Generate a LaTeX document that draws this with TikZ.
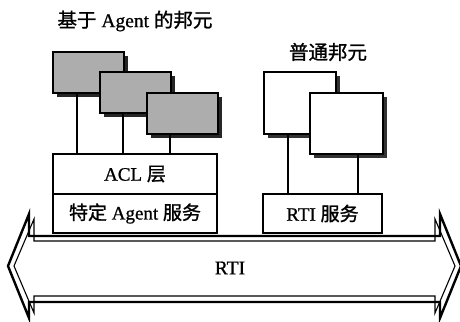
\documentclass[tikz,border=0pt]{standalone}
\usepackage{fontspec}
\setmainfont{Liberation Serif}[FakeBold=0.8]
\newfontfamily\cjk{Noto Sans CJK SC}[FakeBold=1.2]
\usetikzlibrary{shadows}
\tikzset{
  boxline/.style={line width=2pt},
  agentbox/.style={boxline, draw, fill=black!32, minimum width=71pt, minimum height=41pt, inner sep=0pt,
    drop shadow={shadow xshift=4pt, shadow yshift=-4pt, fill=black!85, opacity=1}},
  fedbox/.style={boxline, draw, fill=white, minimum width=72pt, minimum height=62pt, inner sep=0pt,
    drop shadow={shadow xshift=4pt, shadow yshift=-4pt, fill=black!80, opacity=1}},
  layerbox/.style={boxline, draw, fill=white, inner sep=0pt, font=\fontsize{19}{21}\selectfont},
  conn/.style={line width=2.6pt},
  lbl/.style={font=\fontsize{19.5}{21}\selectfont, inner sep=0pt}
}
\begin{document}
\begin{tikzpicture}[x=1pt, y=-1pt]
\useasboundingbox (0,0) rectangle (460,321);
\clip (0,0) rectangle (460,321);
% titles
\node[lbl] (t1) at (135,21) {{\cjk 基于} Agent {\cjk 的邦元}};
\node[lbl] (t2) at (328,52) {\cjk 普通邦元};
% agent federates
\node[agentbox] (a1) at (88.5,72.5) {};
\node[agentbox] (a2) at (135.5,92) {};
\node[agentbox] (a3) at (182.5,113) {};
% layers
\node[layerbox, minimum width=164pt, minimum height=40pt] (acl) at (135,174) {ACL {\cjk 层}};
\node[layerbox, minimum width=164pt, minimum height=39pt] (spec) at (135,213.5) {{\cjk 特定} Agent {\cjk 服务}};
% normal federates
\node[fedbox] (w1) at (300,102.5) {};
\node[fedbox, minimum width=73pt, minimum height=61pt] (w2) at (346.5,123.5) {};
\node[layerbox, minimum width=119pt, minimum height=39pt] (rtis) at (322.5,213.5) {RTI {\cjk 服务}};
% connectors
\coordinate (x1) at (77,0);
\coordinate (x2) at (123,0);
\coordinate (x3) at (170,0);
\coordinate (x4) at (288,0);
\coordinate (x5) at (358,0);
\draw[conn] (a1.south -| x1) -- (acl.north -| x1);
\draw[conn] (a2.south -| x2) -- (acl.north -| x2);
\draw[conn] (a3.south -| x3) -- (acl.north -| x3);
\draw[conn] (w1.south -| x4) -- (rtis.north -| x4);
\draw[conn] (w2.south -| x5) -- (rtis.north -| x5);
% RTI double arrow: thick outer outline + thin inner outline
\draw[line width=2.4pt, line join=miter]
  (8,266) -- (29,214) -- (29,236) -- (440,236) -- (440,214) -- (461,266)
  -- (440,318) -- (440,302) -- (29,302) -- (29,318) -- cycle;
\draw[line width=1.1pt, line join=miter]
  (14,266) -- (34,219) -- (34,241) -- (435,241) -- (435,219) -- (455,266)
  -- (435,313) -- (435,296) -- (34,296) -- (34,313) -- cycle;
\node[lbl] (rti) at (230,268) {RTI};
\end{tikzpicture}
\end{document}
